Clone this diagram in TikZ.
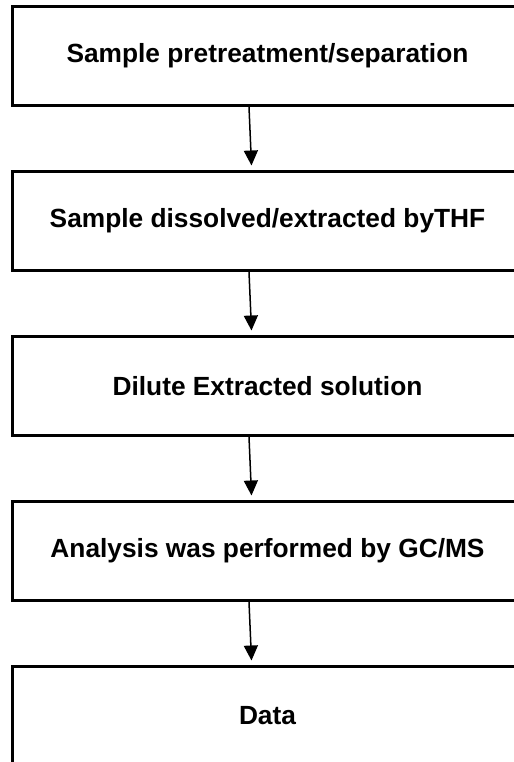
\documentclass[tikz,border=0pt]{standalone}
\usepackage{fontspec}
\setmainfont{Liberation Sans}
\usetikzlibrary{arrows.meta}
\begin{document}
\begin{tikzpicture}[x=1bp,y=-1bp,
  stepbox/.style={draw, line width=3bp, minimum width=510bp, minimum height=99bp, inner sep=0pt,
    font=\fontsize{26.3bp}{30bp}\selectfont\bfseries},
  flow/.style={line width=1.5bp, -{Triangle[width=14bp,length=15bp]}, shorten >=4.5bp}]
\useasboundingbox (0,0) rectangle (514,762);
\clip (0,0) rectangle (514,762);
\node[stepbox] (b1) at (267.5,56) {Sample pretreatment/separation};
\node[stepbox] (b2) at (267.5,221) {Sample dissolved/extracted byTHF};
\node[stepbox] (b3) at (267.5,386) {Dilute Extracted solution};
\node[stepbox] (b4) at (267.5,551) {Analysis was performed by GC/MS};
\node[stepbox] (b5) at (267.5,716) {Data};
\draw[flow] ([xshift=-18.5bp]b1.south) -- ([xshift=-15.8bp]b2.north);
\draw[flow] ([xshift=-18.5bp]b2.south) -- ([xshift=-15.8bp]b3.north);
\draw[flow] ([xshift=-18.5bp]b3.south) -- ([xshift=-15.8bp]b4.north);
\draw[flow] ([xshift=-18.5bp]b4.south) -- ([xshift=-15.8bp]b5.north);
\end{tikzpicture}
\end{document}
